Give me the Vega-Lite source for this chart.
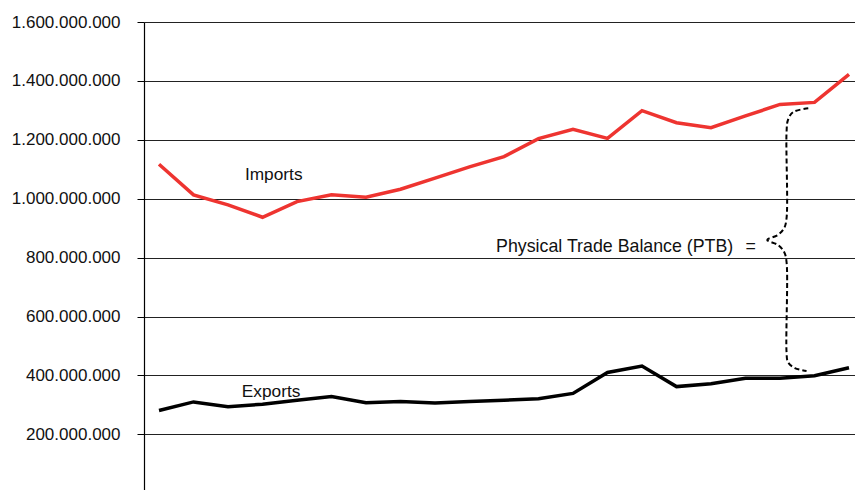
{
  "$schema": "https://vega.github.io/schema/vega-lite/v6.json",
  "width": 711,
  "height": 468,
  "autosize": {"type": "none"},
  "padding": {"left": 144, "top": 22, "right": 0, "bottom": 0},
  "background": "white",
  "config": {
    "view": {"stroke": null},
    "locale": {"number": {"decimal": ",", "thousands": ".", "grouping": [3], "currency": ["", ""]}},
    "font": "Liberation Sans"
  },
  "datasets": {
    "trade": [
      {"year": 1980, "series": "Imports", "value": 1117000000},
      {"year": 1981, "series": "Imports", "value": 1013000000},
      {"year": 1982, "series": "Imports", "value": 979000000},
      {"year": 1983, "series": "Imports", "value": 937000000},
      {"year": 1984, "series": "Imports", "value": 990000000},
      {"year": 1985, "series": "Imports", "value": 1013000000},
      {"year": 1986, "series": "Imports", "value": 1005000000},
      {"year": 1987, "series": "Imports", "value": 1032000000},
      {"year": 1988, "series": "Imports", "value": 1070000000},
      {"year": 1989, "series": "Imports", "value": 1108000000},
      {"year": 1990, "series": "Imports", "value": 1143000000},
      {"year": 1991, "series": "Imports", "value": 1204000000},
      {"year": 1992, "series": "Imports", "value": 1236000000},
      {"year": 1993, "series": "Imports", "value": 1205000000},
      {"year": 1994, "series": "Imports", "value": 1299000000},
      {"year": 1995, "series": "Imports", "value": 1258000000},
      {"year": 1996, "series": "Imports", "value": 1241000000},
      {"year": 1997, "series": "Imports", "value": 1281000000},
      {"year": 1998, "series": "Imports", "value": 1320000000},
      {"year": 1999, "series": "Imports", "value": 1327000000},
      {"year": 2000, "series": "Imports", "value": 1422000000},
      {"year": 1980, "series": "Exports", "value": 281000000},
      {"year": 1981, "series": "Exports", "value": 310000000},
      {"year": 1982, "series": "Exports", "value": 294000000},
      {"year": 1983, "series": "Exports", "value": 302000000},
      {"year": 1984, "series": "Exports", "value": 316000000},
      {"year": 1985, "series": "Exports", "value": 328000000},
      {"year": 1986, "series": "Exports", "value": 307000000},
      {"year": 1987, "series": "Exports", "value": 311000000},
      {"year": 1988, "series": "Exports", "value": 306000000},
      {"year": 1989, "series": "Exports", "value": 311000000},
      {"year": 1990, "series": "Exports", "value": 316000000},
      {"year": 1991, "series": "Exports", "value": 321000000},
      {"year": 1992, "series": "Exports", "value": 339000000},
      {"year": 1993, "series": "Exports", "value": 410000000},
      {"year": 1994, "series": "Exports", "value": 432000000},
      {"year": 1995, "series": "Exports", "value": 362000000},
      {"year": 1996, "series": "Exports", "value": 372000000},
      {"year": 1997, "series": "Exports", "value": 390000000},
      {"year": 1998, "series": "Exports", "value": 390000000},
      {"year": 1999, "series": "Exports", "value": 399000000},
      {"year": 2000, "series": "Exports", "value": 426000000}
    ],
    "brace": [
      {"i": 1, "year": 1998.82, "value": 1307000000},
      {"i": 2, "year": 1998.38, "value": 1294000000},
      {"i": 3, "year": 1998.23, "value": 1267000000},
      {"i": 4, "year": 1998.19, "value": 1226000000},
      {"i": 5, "year": 1998.19, "value": 934000000},
      {"i": 6, "year": 1998.12, "value": 900000000},
      {"i": 7, "year": 1997.94, "value": 877000000},
      {"i": 8, "year": 1997.63, "value": 860000000},
      {"i": 9, "year": 1997.94, "value": 843000000},
      {"i": 10, "year": 1998.12, "value": 819000000},
      {"i": 11, "year": 1998.19, "value": 785000000},
      {"i": 12, "year": 1998.19, "value": 479000000},
      {"i": 13, "year": 1998.23, "value": 445500000},
      {"i": 14, "year": 1998.43, "value": 425000000},
      {"i": 15, "year": 1998.77, "value": 415000000}
    ],
    "labels": [
      {"label": "Imports", "year": 1982.49, "value": 1063500000, "size": 17.3},
      {"label": "Exports", "year": 1982.4, "value": 327700000, "size": 17.3},
      {"label": "Physical Trade Balance (PTB)", "year": 1989.77, "value": 820000000, "size": 17.8},
      {"label": "=", "year": 1997.0, "value": 820000000, "size": 17.8}
    ]
  },
  "layer": [
    {
      "data": {"name": "trade"},
      "mark": {"type": "line", "strokeWidth": 3.5, "clip": true},
      "encoding": {
        "x": {"field": "year", "type": "quantitative", "scale": {"domain": [1979.565, 2000.174], "nice": false, "zero": false}, "axis": null},
        "y": {
          "field": "value", "type": "quantitative",
          "scale": {"domain": [10900000, 1600000000], "nice": false, "zero": false},
          "axis": {
            "title": null,
            "values": [200000000, 400000000, 600000000, 800000000, 1000000000, 1200000000, 1400000000, 1600000000],
            "format": ",d",
            "labelFont": "Liberation Sans",
            "labelFontSize": 17,
            "labelColor": "#111",
            "labelPadding": 17,
            "tickSize": 7,
            "tickColor": "#000",
            "domainColor": "#000",
            "domainWidth": 1.2,
            "grid": true,
            "gridColor": "#222",
            "gridWidth": 1
          }
        },
        "color": {"field": "series", "type": "nominal", "scale": {"domain": ["Imports", "Exports"], "range": ["#EE3430", "#000000"]}, "legend": null}
      }
    },
    {
      "data": {"name": "brace"},
      "mark": {"type": "line", "interpolate": "catmull-rom", "strokeDash": [5, 3], "strokeWidth": 2, "color": "#000"},
      "encoding": {
        "x": {"field": "year", "type": "quantitative"},
        "y": {"field": "value", "type": "quantitative"},
        "order": {"field": "i", "type": "quantitative"}
      }
    },
    {
      "data": {"name": "labels"},
      "mark": {"type": "text", "align": "left", "baseline": "alphabetic", "font": "Liberation Sans", "color": "#111"},
      "encoding": {
        "x": {"field": "year", "type": "quantitative"},
        "y": {"field": "value", "type": "quantitative"},
        "text": {"field": "label"},
        "size": {"field": "size", "type": "quantitative", "scale": null}
      }
    }
  ]
}
